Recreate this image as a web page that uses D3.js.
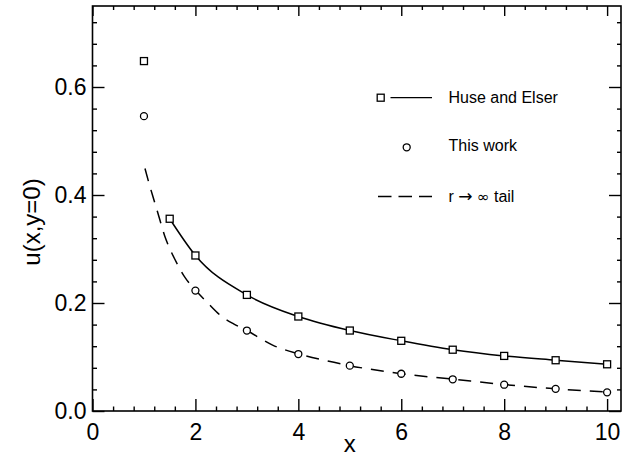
<!DOCTYPE html>
<html>
<head>
<meta charset="utf-8">
<script src="https://cdn.jsdelivr.net/npm/d3@7"></script>
<style>
  html, body { margin: 0; padding: 0; background: #fff; }
  svg { display: block; }
  text { font-family: "Liberation Sans", Arial, Helvetica, sans-serif; fill: #000; }
</style>
</head>
<body>
<svg id="chart" width="629" height="457"></svg>
<script>
// ---- data ----
const huseX = [1, 1.5, 2, 3, 4, 5, 6, 7, 8, 9, 10];
const huseY = [0.648, 0.356, 0.288, 0.215, 0.175, 0.149, 0.130, 0.1135, 0.102, 0.094, 0.0865];
const workX = [1, 2, 3, 4, 5, 6, 7, 8, 9, 10];
const workY = [0.546, 0.223, 0.149, 0.1055, 0.084, 0.069, 0.0587, 0.0487, 0.041, 0.0346];
const tailX = [1.02, 1.1, 1.2, 1.3, 1.4, 1.5, 1.6, 1.8, 2.0, 2.25, 2.5, 2.75, 3, 3.5, 4, 4.5, 5, 6, 7, 8, 9, 10];
const tailY = [0.449, 0.421, 0.389, 0.357, 0.325, 0.301, 0.281, 0.247, 0.224, 0.199, 0.176, 0.161, 0.149, 0.122, 0.106, 0.094, 0.084, 0.069, 0.059, 0.049, 0.041, 0.035];
const xTicks = [0, 2, 4, 6, 8, 10];
const yTicks = [0.0, 0.2, 0.4, 0.6];
const legendLabels = ["Huse and Elser", "This work", "r \u2192 \u221e tail"];

// ---- layout ----
const svg = d3.select("#chart");
const x = d3.scaleLinear().domain([0, 10.27]).range([92.5, 621]);
const y = d3.scaleLinear().domain([0, 0.75]).range([411, 6]);
const X0 = x.range()[0], X1 = x.range()[1], Y0 = y.range()[0], Y1 = y.range()[1];

const xMinor = d3.range(0, 10.3, 0.4).map(v => +v.toFixed(2)).filter(v => xTicks.indexOf(v) < 0 && v <= 10.27);
const yMinor = d3.range(0, 0.76, 0.04).map(v => +v.toFixed(2)).filter(v => !yTicks.some(t => Math.abs(t - v) < 1e-6) && v <= 0.75);

function styleAxis(g) {
  g.select(".domain").remove();
  g.selectAll(".tick line").attr("stroke", "#000").attr("stroke-width", 1.4);
}

// bottom
svg.append("g").attr("transform", `translate(0,${Y0})`)
  .call(d3.axisBottom(x).tickValues(xTicks).tickSize(-12).tickSizeOuter(0).tickPadding(13).tickFormat(d3.format("d")))
  .call(styleAxis)
  .selectAll("text").style("font-size", "23px");
svg.append("g").attr("transform", `translate(0,${Y0})`)
  .call(d3.axisBottom(x).tickValues(xMinor).tickSize(-4.5).tickSizeOuter(0).tickFormat(""))
  .call(styleAxis);
// top
svg.append("g").attr("transform", `translate(0,${Y1})`)
  .call(d3.axisTop(x).tickValues(xTicks).tickSize(-10).tickSizeOuter(0).tickFormat(""))
  .call(styleAxis);
svg.append("g").attr("transform", `translate(0,${Y1})`)
  .call(d3.axisTop(x).tickValues(xMinor).tickSize(-4).tickSizeOuter(0).tickFormat(""))
  .call(styleAxis);
// left
svg.append("g").attr("transform", `translate(${X0},0)`)
  .call(d3.axisLeft(y).tickValues(yTicks).tickSize(-12).tickSizeOuter(0).tickPadding(6).tickFormat(d3.format(".1f")))
  .call(styleAxis)
  .selectAll("text").style("font-size", "23px");
svg.append("g").attr("transform", `translate(${X0},0)`)
  .call(d3.axisLeft(y).tickValues(yMinor).tickSize(-4.5).tickSizeOuter(0).tickFormat(""))
  .call(styleAxis);
// right
svg.append("g").attr("transform", `translate(${X1},0)`)
  .call(d3.axisRight(y).tickValues(yTicks).tickSize(-12).tickSizeOuter(0).tickFormat(""))
  .call(styleAxis);
svg.append("g").attr("transform", `translate(${X1},0)`)
  .call(d3.axisRight(y).tickValues(yMinor).tickSize(-4).tickSizeOuter(0).tickFormat(""))
  .call(styleAxis);

// frame
svg.append("rect")
  .attr("x", X0).attr("y", Y1).attr("width", X1 - X0).attr("height", Y0 - Y1)
  .attr("fill", "none").attr("stroke", "#000").attr("stroke-width", 1.6);

// axis titles
svg.append("text").attr("x", x(5)).attr("y", 452).attr("text-anchor", "middle")
  .style("font-size", "24px").text("x");
svg.append("text").attr("transform", `translate(40,${y(0.35)}) rotate(-90)`)
  .attr("text-anchor", "middle").style("font-size", "24px").text("u(x,y=0)");

// lines
const line = d3.line().x(d => x(d[0])).y(d => y(d[1])).curve(d3.curveMonotoneX);
const tailData = tailX.map((v, i) => [v, tailY[i]]);
const huseLine = huseX.map((v, i) => [v, huseY[i]]).filter(d => d[0] >= 1.5);

svg.append("path").datum(tailData).attr("d", line)
  .attr("fill", "none").attr("stroke", "#000").attr("stroke-width", 1.5)
  .attr("stroke-dasharray", "13,9");
svg.append("path").datum(huseLine).attr("d", line)
  .attr("fill", "none").attr("stroke", "#000").attr("stroke-width", 1.5);

// markers
const S = 7;
svg.append("g").selectAll("rect").data(huseX.map((v, i) => [v, huseY[i]])).join("rect")
  .attr("x", d => x(d[0]) - S / 2).attr("y", d => y(d[1]) - S / 2)
  .attr("width", S).attr("height", S)
  .attr("fill", "#fff").attr("stroke", "#000").attr("stroke-width", 1.3);
svg.append("g").selectAll("circle").data(workX.map((v, i) => [v, workY[i]])).join("circle")
  .attr("cx", d => x(d[0])).attr("cy", d => y(d[1])).attr("r", 3.5)
  .attr("fill", "#fff").attr("stroke", "#000").attr("stroke-width", 1.3);

// legend
const lg = svg.append("g");
lg.append("rect").attr("x", 380.7 - S / 2).attr("y", 97.7 - S / 2).attr("width", S).attr("height", S)
  .attr("fill", "#fff").attr("stroke", "#000").attr("stroke-width", 1.3);
lg.append("line").attr("x1", 390.5).attr("x2", 432).attr("y1", 97.7).attr("y2", 97.7)
  .attr("stroke", "#000").attr("stroke-width", 1.3);
lg.append("circle").attr("cx", 406.7).attr("cy", 147.3).attr("r", 3.5)
  .attr("fill", "#fff").attr("stroke", "#000").attr("stroke-width", 1.3);
lg.append("line").attr("x1", 378).attr("x2", 432).attr("y1", 196.5).attr("y2", 196.5)
  .attr("stroke", "#000").attr("stroke-width", 1.3).attr("stroke-dasharray", "13.5,7");
const ly = [103, 150.5, 202];
legendLabels.forEach((t, i) => {
  const tx = lg.append("text").attr("x", 448.5).attr("y", ly[i]).style("font-size", "16px");
  if (t.indexOf("\u2192") >= 0) {
    const parts = t.split(/(\u2192|\u221e)/);
    parts.forEach(p => {
      if (p === "\u2192") {
        tx.append("tspan").style("font-family", "'DejaVu Sans', sans-serif").style("font-size", "17px").text(p);
      } else if (p === "\u221e") {
        tx.append("tspan").style("font-family", "'DejaVu Sans', sans-serif").style("font-size", "15px").text(p);
      } else {
        tx.append("tspan").text(p);
      }
    });
  } else {
    tx.text(t);
  }
});
</script>
</body>
</html>
